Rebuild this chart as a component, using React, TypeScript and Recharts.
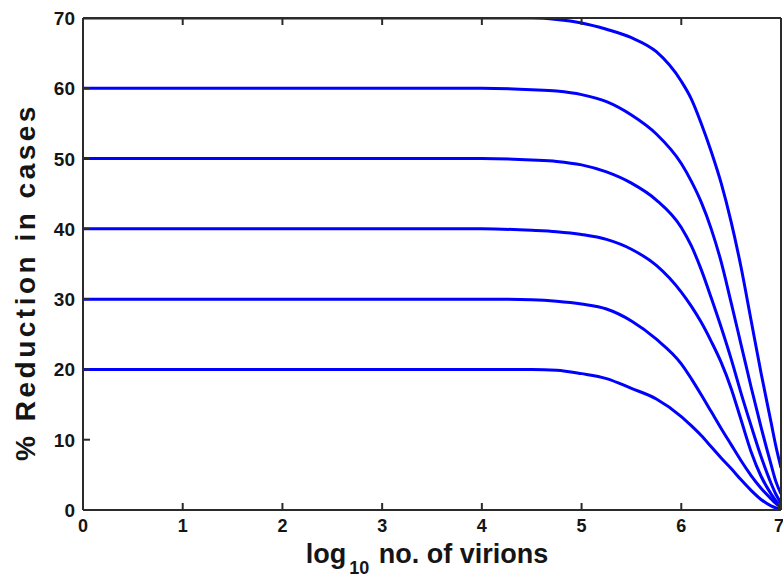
import React from 'react';
import { LineChart, Line, XAxis, YAxis, Label } from 'recharts';

const xValues = [0, 4, 4.5, 4.75, 5, 5.25, 5.5, 5.75, 6, 6.1, 6.2, 6.3, 6.4, 6.5, 6.6, 6.7, 6.8, 6.9, 6.95, 7];
const r70 = [70, 70, 70, 69.8, 69.3, 68.4, 67.2, 65.2, 61, 58.5, 55, 51, 46.5, 41, 34.5, 27, 19.5, 12.5, 9, 6];
const r60 = [60, 60, 59.8, 59.6, 59.1, 58.1, 56.2, 53.5, 49.3, 46.8, 43.8, 40, 35.3, 29.5, 23.5, 17.5, 11.8, 6.5, 4, 2.3];
const r50 = [50, 50, 49.8, 49.6, 49.1, 48.1, 46.5, 44.1, 40.2, 37.6, 34.2, 30.2, 26, 21.5, 16.6, 12, 7.6, 3.8, 2.2, 1];
const r40 = [40, 40, 39.8, 39.6, 39.2, 38.5, 37.1, 34.8, 31, 29, 26.7, 24, 21, 17.3, 12.8, 8.3, 4.8, 2.3, 1.3, 0.6];
const r30 = [30, 30, 29.9, 29.7, 29.3, 28.6, 26.9, 24.3, 20.8, 18.7, 16.4, 14, 11.6, 9.3, 7, 4.9, 3.1, 1.6, 0.9, 0.4];
const r20 = [20, 20, 20, 19.9, 19.4, 18.7, 17.3, 15.8, 13.3, 12, 10.6, 9, 7.4, 5.9, 4.3, 2.8, 1.5, 0.6, 0.3, 0.1];

const xTicks = [0, 1, 2, 3, 4, 5, 6, 7];
const yTicks = [0, 10, 20, 30, 40, 50, 60, 70];

const seriesKeys = ['r70', 'r60', 'r50', 'r40', 'r30', 'r20'];
const data = xValues.map((x, i) => ({
  x,
  r70: r70[i],
  r60: r60[i],
  r50: r50[i],
  r40: r40[i],
  r30: r30[i],
  r20: r20[i],
}));

const FONT = '"Liberation Sans", Arial, Helvetica, sans-serif';
const AXIS = '#2b2b2b';
const TEXT = '#151515';
const LINE = '#0000ff';

const BottomTick = (props: any) => {
  const { x, y, payload } = props;
  return (
    <g>
      <line x1={x} x2={x} y1={y} y2={y - 7} stroke={AXIS} strokeWidth={2} />
      <text x={x} y={y + 22} textAnchor="middle" fontSize={18} fontWeight="bold" fill={TEXT} fontFamily={FONT}>
        {payload.value}
      </text>
    </g>
  );
};

const LeftTick = (props: any) => {
  const { x, y, payload } = props;
  return (
    <g>
      <line x1={x} x2={x + 7} y1={y} y2={y} stroke={AXIS} strokeWidth={2} />
      <text x={x - 8} y={y} dy={7} textAnchor="end" fontSize={19} fontWeight="bold" fill={TEXT} fontFamily={FONT}>
        {payload.value}
      </text>
    </g>
  );
};

const NoTick = () => <g />;

const XLabel = (props: any) => {
  const vb = props.viewBox || {};
  const cx = vb.x + vb.width / 2 - 5;
  const by = vb.y + 53;
  return (
    <text x={cx} y={by} textAnchor="middle" fontSize={27} fontWeight="bold" fill={TEXT} fontFamily={FONT}>
      <tspan>log</tspan>
      <tspan fontSize={18} dy={11} dx={3}>10</tspan>
      <tspan dy={-11} dx={2}> no. of virions</tspan>
    </text>
  );
};

const YLabel = (props: any) => {
  const vb = props.viewBox || {};
  const cx = 25;
  const cy = vb.y + vb.height / 2 + 18;
  return (
    <text
      x={cx}
      y={cy}
      transform={`rotate(-90, ${cx}, ${cy})`}
      textAnchor="middle"
      dominantBaseline="central"
      fontSize={28}
      letterSpacing={3.5}
      fontWeight="bold"
      fill={TEXT}
      fontFamily={FONT}
    >
      % Reduction in cases
    </text>
  );
};

export default function App() {
  return (
    <div style={{ position: 'absolute', left: 0, top: 0, width: 783, height: 580, background: '#fff' }}>
      <LineChart width={783} height={580} data={data} margin={{ top: 18, right: 2, left: 0, bottom: 0 }}>
        <XAxis
          dataKey="x"
          type="number"
          domain={[0, 7]}
          ticks={xTicks}
          allowDataOverflow
          height={70}
          stroke={AXIS}
          strokeWidth={2}
          tickLine={false}
          tickSize={0}
          tickMargin={0}
          tick={<BottomTick />}
        >
          <Label content={<XLabel />} />
        </XAxis>
        <XAxis
          xAxisId="top"
          orientation="top"
          dataKey="x"
          type="number"
          domain={[0, 7]}
          ticks={xTicks}
          height={1}
          mirror
          stroke={AXIS}
          strokeWidth={2}
          tickSize={7}
          tickLine={{ stroke: AXIS, strokeWidth: 2 }}
          tick={<NoTick />}
        />
        <YAxis
          type="number"
          domain={[0, 70]}
          ticks={yTicks}
          allowDataOverflow
          width={83}
          stroke={AXIS}
          strokeWidth={2}
          tickLine={false}
          tickSize={0}
          tickMargin={0}
          tick={<LeftTick />}
        >
          <Label content={<YLabel />} />
        </YAxis>
        <YAxis
          yAxisId="right"
          orientation="right"
          type="number"
          domain={[0, 70]}
          ticks={yTicks}
          width={1}
          mirror
          stroke={AXIS}
          strokeWidth={2}
          tickSize={7}
          tickLine={{ stroke: AXIS, strokeWidth: 2 }}
          tick={<NoTick />}
        />
        {seriesKeys.map((k) => (
          <Line
            key={k}
            type="monotone"
            dataKey={k}
            stroke={LINE}
            strokeWidth={3}
            dot={false}
            isAnimationActive={false}
          />
        ))}
      </LineChart>
    </div>
  );
}
